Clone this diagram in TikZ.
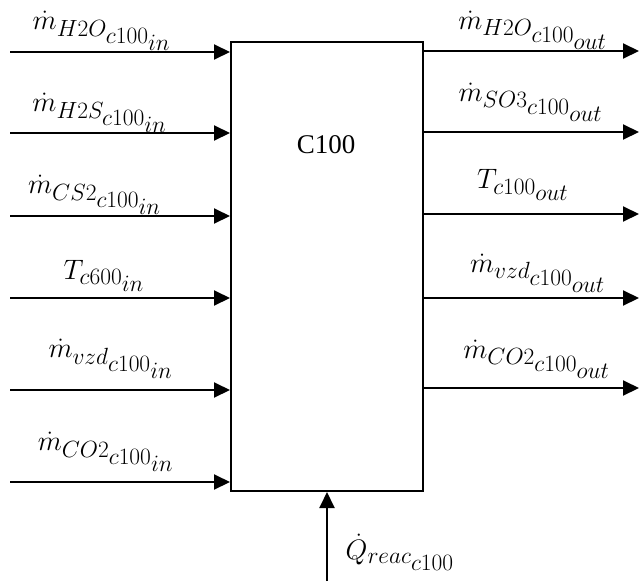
\documentclass[tikz,border=0pt]{standalone}
\usepackage{fontspec}
\setmainfont{Liberation Serif}
\usetikzlibrary{arrows.meta,positioning}
\renewcommand\defaultscriptratio{.8}
\renewcommand\defaultscriptscriptratio{.8}

\begin{document}
\begin{tikzpicture}[x=1pt,y=-1pt,
  unit/.style={rectangle,draw,line width=2pt,
    minimum width=192pt,minimum height=449pt},
  flow/.style={line width=2pt,-{Triangle[length=16pt,width=15pt]}},
  lbl/.style={inner sep=0pt,scale=1.13,transform shape,
    font=\fontsize{24.88}{30}\selectfont}]

  \useasboundingbox (0,0) rectangle (639,581);

  \node[unit] (c100) at (327,266.5) {};
  \node[font=\fontsize{27}{32}\selectfont] (name) at (326,145) {C100};

  % inputs
  \coordinate (in1) at (10,52);
  \coordinate (in2) at (10,133);
  \coordinate (in3) at (10,216);
  \coordinate (in4) at (10,298);
  \coordinate (in5) at (10,390);
  \coordinate (in6) at (10,482);

  \draw[flow] (in1) -- (in1 -| c100.west);
  \draw[flow] (in2) -- (in2 -| c100.west);
  \draw[flow] (in3) -- (in3 -| c100.west);
  \draw[flow] (in4) -- (in4 -| c100.west);
  \draw[flow] (in5) -- (in5 -| c100.west);
  \draw[flow] (in6) -- (in6 -| c100.west);

  \node[lbl] (lin1) at (102,31) {$\dot{m}_{H2O_{\scriptstyle c100_{\scriptstyle in}}}$};
  \node[lbl] (lin2) at (100,113) {$\dot{m}_{H2S_{\scriptstyle c100_{\scriptstyle in}}}$};
  \node[lbl] (lin3) at (95,195) {$\dot{m}_{CS2_{\scriptstyle c100_{\scriptstyle in}}}$};
  \node[lbl] (lin4) at (104,276) {$T_{c600_{\scriptstyle in}}$};
  \node[lbl] (lin5) at (111,359) {$\dot{m}_{vzd_{\scriptstyle c100_{\scriptstyle in}}}$};
  \node[lbl] (lin6) at (106,452) {$\dot{m}_{CO2_{\scriptstyle c100_{\scriptstyle in}}}$};

  % outputs
  \coordinate (out1) at (639,51);
  \coordinate (out2) at (639,132);
  \coordinate (out3) at (639,214);
  \coordinate (out4) at (639,298);
  \coordinate (out5) at (639,388);

  \draw[flow] (out1 -| c100.east) -- (out1);
  \draw[flow] (out2 -| c100.east) -- (out2);
  \draw[flow] (out3 -| c100.east) -- (out3);
  \draw[flow] (out4 -| c100.east) -- (out4);
  \draw[flow] (out5 -| c100.east) -- (out5);

  \node[lbl] (lout1) at (533,30) {$\dot{m}_{H2O_{\scriptstyle c100_{\scriptstyle out}}}$};
  \node[lbl] (lout2) at (531,102) {$\dot{m}_{SO3_{\scriptstyle c100_{\scriptstyle out}}}$};
  \node[lbl] (lout3) at (523,185) {$T_{c100_{\scriptstyle out}}$};
  \node[lbl] (lout4) at (538,273) {$\dot{m}_{vzd_{\scriptstyle c100_{\scriptstyle out}}}$};
  \node[lbl] (lout5) at (537,359) {$\dot{m}_{CO2_{\scriptstyle c100_{\scriptstyle out}}}$};

  % heat
  \coordinate (heat) at (327,581);
  \draw[flow] (heat) -- (c100.south);
  \node[lbl] (lheat) at (400,552) {$\dot{Q}_{reac_{\scriptstyle c100}}$};
\end{tikzpicture}
\end{document}
